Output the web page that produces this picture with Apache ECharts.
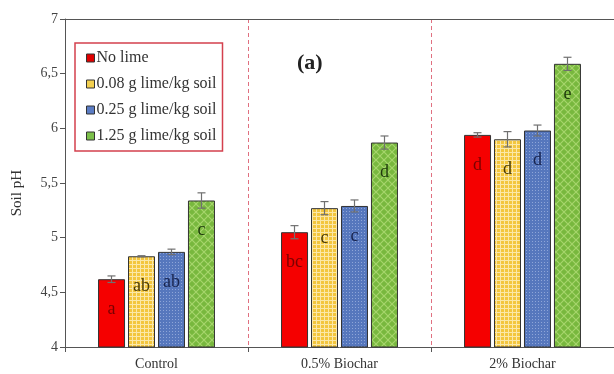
<!DOCTYPE html>
<html><head><meta charset="utf-8">
<script src="https://cdn.jsdelivr.net/npm/echarts@6/dist/echarts.min.js"></script>
<style>html,body{margin:0;padding:0;background:#fff}#c{width:614px;height:374px}</style>
</head><body><div id="c"></div>
<script>
const categories = ['Control', '0.5% Biochar', '2% Biochar'];
const seriesNames = ['No lime', '0.08 g lime/kg soil', '0.25 g lime/kg soil', '1.25 g lime/kg soil'];
const noLime = [4.62, 5.05, 5.94];
const lime008 = [4.83, 5.27, 5.90];
const lime025 = [4.87, 5.29, 5.98];
const lime125 = [5.34, 5.87, 6.59];
const errNoLime = [0.03, 0.06, 0.02];
const err008 = [0.005, 0.06, 0.07];
const err025 = [0.025, 0.055, 0.05];
const err125 = [0.07, 0.06, 0.06];
const letNoLime = ['a', 'bc', 'd'];
const let008 = ['ab', 'c', 'd'];
const let025 = ['ab', 'c', 'd'];
const let125 = ['c', 'd', 'e'];
const yTicks = ['4', '4,5', '5', '5,5', '6', '6,5', '7'];

const values = [noLime, lime008, lime025, lime125];
const errors = [errNoLime, err008, err025, err125];
const letters = [letNoLime, let008, let025, let125];

function tile(w, h, draw) {
  const c = document.createElement('canvas'); c.width = w; c.height = h;
  draw(c.getContext('2d')); return c;
}
const yellowPat = tile(4, 4, g => {
  g.fillStyle = '#f3c63e'; g.fillRect(0, 0, 4, 4);
  g.fillStyle = '#fbe8a8'; g.fillRect(0, 0, 4, 1); g.fillRect(0, 0, 1, 4);
});
const bluePat = tile(3, 3, g => {
  g.fillStyle = '#5677bd'; g.fillRect(0, 0, 3, 3);
  g.fillStyle = '#8ea5d8'; g.fillRect(1, 1, 1, 1);
});
const greenPat = tile(8, 8, g => {
  g.fillStyle = '#78b83e'; g.fillRect(0, 0, 8, 8);
  g.strokeStyle = '#a6d56c'; g.lineWidth = 1.2;
  g.beginPath(); g.moveTo(0, 0); g.lineTo(8, 8); g.moveTo(8, 0); g.lineTo(0, 8); g.stroke();
});
const fills = ['#f50000', {image: yellowPat, repeat: 'repeat'}, {image: bluePat, repeat: 'repeat'}, {image: greenPat, repeat: 'repeat'}];
const legendColors = ['#e00000', '#f3d050', '#5b7cc4', '#7cc04a'];
const labelColors = ['#7a0000', '#4a3c08', '#18244e', '#1e3a0c'];

const serif = 'Liberation Serif';
const chart = echarts.init(document.getElementById('c'), null, {renderer: 'canvas'});

const barSeries = values.map((vals, i) => ({
  name: seriesNames[i], type: 'bar', barWidth: 27, barGap: '11%',
  data: vals.map((v, j) => ({value: v, letter: letters[i][j]})),
  itemStyle: {color: fills[i], borderColor: '#333', borderWidth: 1},
  label: {show: true, position: 'insideTop', distance: 21, fontFamily: serif, fontSize: 18,
    color: labelColors[i], formatter: p => p.data.letter},
  z: 2
}));

const errData = [];
values.forEach((vals, i) => vals.forEach((v, j) => errData.push([j, v, errors[i][j], i])));
const errSeries = {
  type: 'custom', silent: true, z: 5,
  data: errData,
  encode: {x: 0, y: 1},
  renderItem: (params, api) => {
    const cat = api.value(0), v = api.value(1), e = api.value(2), si = api.value(3);
    const c = api.coord([cat, v]);
    const x = c[0] + (si - 1.5) * 30;
    const top = api.coord([cat, v + e])[1], bot = api.coord([cat, v - e])[1];
    const style = {stroke: '#707070', lineWidth: 1.2};
    return {type: 'group', children: [
      {type: 'line', shape: {x1: x, y1: top, x2: x, y2: bot}, style},
      {type: 'line', shape: {x1: x - 4, y1: top, x2: x + 4, y2: top}, style},
      {type: 'line', shape: {x1: x - 4, y1: bot, x2: x + 4, y2: bot}, style}
    ]};
  }
};

chart.setOption({
  animation: false,
  backgroundColor: '#fff',
  grid: {left: 65, width: 552, top: 19, bottom: 27},
  title: {text: '(a)', left: 292, top: 47, textStyle: {fontFamily: serif, fontSize: 22, fontWeight: 'bold', color: '#222'}},
  legend: {
    orient: 'vertical', left: 75, top: 43, padding: [7, 6, 7, 11],
    backgroundColor: '#fff', borderColor: '#d4404e', borderWidth: 1.5,
    itemWidth: 8, itemHeight: 8, itemGap: 10,
    textStyle: {fontFamily: serif, fontSize: 16, color: '#333', lineHeight: 16, padding: [0, 0, 0, -3]},
    data: seriesNames.map((n, i) => ({name: n, icon: 'rect', itemStyle: {color: legendColors[i], borderColor: '#333', borderWidth: 1}}))
  },
  xAxis: [{
    type: 'category', data: categories,
    axisLine: {lineStyle: {color: '#555', width: 1}},
    axisTick: {show: true, length: 5, lineStyle: {color: '#555'}},
    axisLabel: {fontFamily: serif, fontSize: 14, color: '#333', margin: 10},
    splitLine: {show: true, interval: (idx) => idx > 0, lineStyle: {color: '#e07080', type: [4, 3], width: 1}}
  }, {
    type: 'category', data: categories, position: 'top',
    axisLine: {show: true, lineStyle: {color: '#555', width: 1}},
    axisTick: {show: false}, axisLabel: {show: false}, splitLine: {show: false}
  }],
  yAxis: {
    type: 'value', min: 4, max: 7, interval: 0.5,
    axisLine: {show: true, lineStyle: {color: '#555', width: 1}},
    axisTick: {show: true, length: 5, lineStyle: {color: '#555'}},
    axisLabel: {fontFamily: serif, fontSize: 14, color: '#444', margin: 7,
      formatter: v => yTicks[Math.round((v - 4) * 2)]},
    splitLine: {show: false}
  },
  graphic: [{type: 'text', left: 10, top: 170, rotation: Math.PI / 2,
    style: {text: 'Soil pH', font: '15px "Liberation Serif"', fill: '#333'}}],
  series: [...barSeries, errSeries]
});
</script></body></html>
